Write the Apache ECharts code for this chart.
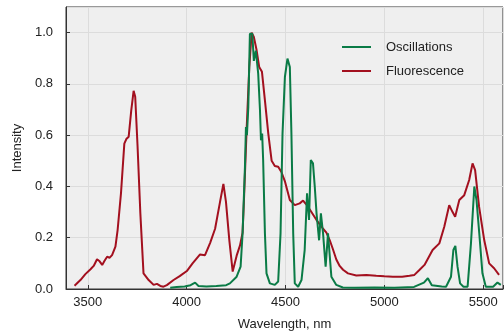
<!DOCTYPE html>
<html><head><meta charset="utf-8">
<script src="https://cdn.jsdelivr.net/npm/echarts@6/dist/echarts.min.js"></script>
<style>html,body{margin:0;padding:0;background:#fff}#c{width:504px;height:334px}</style>
</head><body><div id="c"></div>
<script>
var xTicks = [3500, 4000, 4500, 5000, 5500];
var yTicks = ['0.0', '0.2', '0.4', '0.6', '0.8', '1.0'];
var seriesNames = ['Oscillations', 'Fluorescence'];

var fluWl = [3433,3463,3488,3514,3530,3547,3560,3573,3585,3598,3610,3623,3640,3651,3668,3685,3695,3707,3720,3732,3740,3752,3766,3782,3808,3833,3850,3867,3883,3900,3934,3965,4001,4030,4068,4093,4119,4144,4169,4186,4199,4216,4233,4253,4270,4283,4290,4304,4317,4329,4340,4354,4367,4381,4396,4413,4430,4446,4463,4480,4497,4522,4547,4572,4589,4610,4623,4657,4690,4707,4724,4740,4757,4774,4791,4816,4858,4909,4959,5000,5043,5090,5127,5152,5177,5203,5244,5278,5303,5328,5345,5358,5379,5404,5429,5446,5459,5479,5505,5530,5555,5580];
var fluVal = [0.013,0.035,0.058,0.077,0.09,0.116,0.108,0.094,0.11,0.126,0.122,0.132,0.165,0.23,0.373,0.567,0.585,0.594,0.697,0.773,0.75,0.555,0.295,0.061,0.035,0.016,0.02,0.012,0.009,0.015,0.035,0.05,0.07,0.1,0.135,0.132,0.18,0.235,0.34,0.41,0.34,0.19,0.068,0.13,0.17,0.22,0.347,0.632,0.866,1.0,0.983,0.931,0.866,0.847,0.736,0.606,0.5,0.48,0.477,0.455,0.42,0.347,0.327,0.334,0.345,0.325,0.31,0.269,0.235,0.22,0.19,0.155,0.115,0.09,0.075,0.061,0.053,0.055,0.052,0.05,0.048,0.048,0.052,0.055,0.074,0.094,0.152,0.178,0.243,0.327,0.3,0.282,0.347,0.366,0.425,0.49,0.464,0.321,0.191,0.1,0.081,0.055];

var oscWl = [3917,3950,3990,4020,4043,4060,4100,4150,4200,4219,4253,4273,4283,4295,4300,4305,4312,4320,4332,4340,4350,4362,4371,4376,4382,4387,4396,4404,4421,4446,4463,4475,4485,4497,4510,4522,4530,4539,4547,4564,4581,4597,4609,4619,4628,4639,4648,4657,4670,4679,4690,4703,4715,4732,4757,4790,4850,4950,5050,5150,5200,5220,5240,5290,5312,5337,5349,5359,5370,5383,5400,5421,5438,5455,5466,5480,5496,5513,5550,5572,5589];
var oscVal = [0.005,0.008,0.01,0.015,0.025,0.012,0.01,0.012,0.015,0.022,0.048,0.087,0.217,0.477,0.632,0.6,0.71,0.996,0.996,0.89,0.93,0.84,0.697,0.58,0.606,0.503,0.217,0.061,0.022,0.016,0.029,0.217,0.606,0.827,0.899,0.866,0.606,0.217,0.022,0.009,0.035,0.152,0.373,0.269,0.503,0.49,0.4,0.295,0.19,0.295,0.217,0.087,0.217,0.048,0.016,0.006,0.005,0.006,0.005,0.008,0.025,0.042,0.015,0.01,0.009,0.048,0.152,0.168,0.087,0.022,0.009,0.009,0.178,0.4,0.347,0.217,0.061,0.009,0.009,0.025,0.016];

function pairs(a, b) { return a.map(function (v, i) { return [v, b[i]]; }); }

var font = 'Liberation Sans, Arial, sans-serif';
var chart = echarts.init(document.getElementById('c'), null, {renderer: 'canvas'});
chart.setOption({
  animation: false,
  backgroundColor: '#ffffff',
  grid: {left: 66, right: 1, top: 7, bottom: 45, containLabel: false, outerBoundsMode: 'none', show: true, backgroundColor: '#efefef', borderColor: '#333', borderWidth: 1},
  legend: {
    data: seriesNames, orient: 'vertical', left: 337, top: 34, icon: 'rect', itemWidth: 29, itemHeight: 2, itemGap: 8,
    textStyle: {fontFamily: font, fontSize: 13, color: '#222', padding: [0, 0, 0, 10], lineHeight: 16}
  },
  xAxis: {
    type: 'value', min: 3390, max: 5600, splitNumber: 4,
    name: 'Wavelength, nm', nameLocation: 'middle', nameGap: 29,
    nameTextStyle: {fontFamily: font, fontSize: 13, color: '#222'},
    axisLine: {show: true, onZero: false, lineStyle: {color: '#333', width: 1}},
    axisTick: {show: true, inside: true, length: 4, lineStyle: {color: '#333'}},
    axisLabel: {fontFamily: font, fontSize: 13, color: '#222', margin: 7,
      formatter: function (v) { return xTicks.indexOf(v) >= 0 ? String(v) : ''; }},
    splitLine: {show: true, lineStyle: {color: '#dcdcdc', width: 1}}
  },
  yAxis: {
    type: 'value', min: 0, max: 1.1, interval: 0.2,
    name: 'Intensity', nameLocation: 'middle', nameGap: 35,
    nameTextStyle: {fontFamily: font, fontSize: 13, color: '#222'},
    axisLine: {show: true, lineStyle: {color: '#333', width: 1}},
    axisTick: {show: true, inside: true, length: 4, lineStyle: {color: '#333'}},
    axisLabel: {fontFamily: font, fontSize: 13, color: '#222', margin: 13, showMaxLabel: false,
      formatter: function (v) { var s = v.toFixed(1); return yTicks.indexOf(s) >= 0 ? s : ''; }},
    splitLine: {show: true, lineStyle: {color: '#dcdcdc', width: 1}}
  },
  series: [
    {name: seriesNames[0], type: 'line', symbol: 'none', data: pairs(oscWl, oscVal), color: '#0a7b46', lineStyle: {width: 2, color: '#0a7b46'}, z: 3},
    {name: seriesNames[1], type: 'line', symbol: 'none', data: pairs(fluWl, fluVal), color: '#a3101f', lineStyle: {width: 2, color: '#a3101f'}, z: 2}
  ]
});
</script></body></html>
